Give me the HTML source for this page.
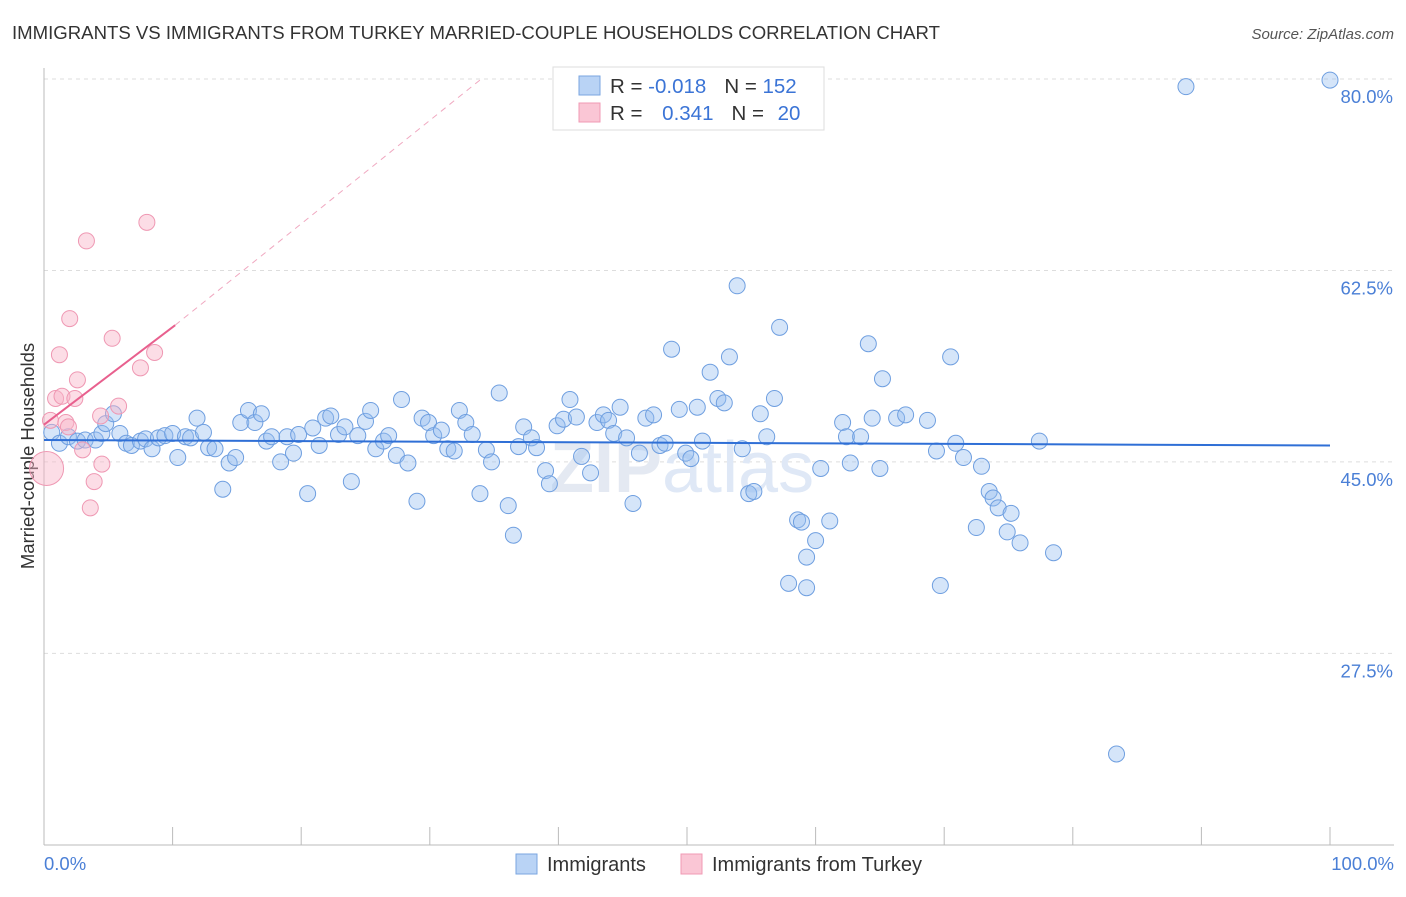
<!DOCTYPE html>
<html><head><meta charset="utf-8"><style>
body{margin:0;background:#fff;font-family:"Liberation Sans",sans-serif}
svg text{font-family:"Liberation Sans",sans-serif}
</style></head><body>
<svg id="chart" width="1406" height="892" viewBox="0 0 1406 892" xmlns="http://www.w3.org/2000/svg">
<text x="12" y="39" font-size="18" fill="#333" textLength="928" lengthAdjust="spacingAndGlyphs">IMMIGRANTS VS IMMIGRANTS FROM TURKEY MARRIED-COUPLE HOUSEHOLDS CORRELATION CHART</text>
<text x="1394" y="39" font-size="15" fill="#555" text-anchor="end" font-style="italic">Source: ZipAtlas.com</text>
<g id="grid"></g>
<text x="550" y="492" font-size="72" fill="#e4e9f2" font-weight="bold">ZIP<tspan font-weight="normal" fill="#dfe8f6">atlas</tspan></text>
<line x1="44" y1="68" x2="44" y2="845" stroke="#bbb"/>
<line x1="44" y1="845" x2="1394" y2="845" stroke="#bbb"/>
<g id="xticks"></g>
<g id="ylabels"></g>
<text x="44" y="870" font-size="18.5" fill="#4a7fd6">0.0%</text>
<text x="1394" y="870" font-size="18.5" fill="#4a7fd6" text-anchor="end">100.0%</text>
<text transform="translate(34,456) rotate(-90)" font-size="18.5" fill="#333" text-anchor="middle">Married-couple Households</text>
<g id="blue"></g>
<g id="pink"></g>
<g id="trends"></g>
<g>
<rect x="553" y="67" width="271" height="63" fill="#fff" stroke="#ddd"/>
<rect x="579" y="76" width="21" height="19" fill="#b9d3f5" stroke="#7aa6e0"/>
<rect x="579" y="103" width="21" height="19" fill="#fac6d5" stroke="#f09ab4"/>
<text x="610" y="93" font-size="20.5" fill="#333">R = <tspan fill="#3b74d6">-0.018</tspan><tspan dx="18">N = </tspan><tspan fill="#3b74d6">152</tspan></text>
<text x="610" y="120" font-size="20.5" fill="#333">R = <tspan fill="#3b74d6" dx="14">0.341</tspan><tspan dx="18">N = </tspan><tspan fill="#3b74d6" dx="8">20</tspan></text>
</g>
<g>
<rect x="516" y="854" width="21" height="20" fill="#b9d3f5" stroke="#7aa6e0"/>
<text x="547" y="871" font-size="20" fill="#333">Immigrants</text>
<rect x="681" y="854" width="21" height="20" fill="#fac6d5" stroke="#f09ab4"/>
<text x="712" y="871" font-size="20" fill="#333">Immigrants from Turkey</text>
</g>
</svg>
<script>
const yTicks=[80,62.5,45,27.5];
const yTickLabels=["80.0%","62.5%","45.0%","27.5%"];
const xTicks=[0,10,20,30,40,50,60,70,80,90,100];
const blueX=[0.6,1.2,1.9,2.6,3.2,4.0,4.5,4.8,5.4,5.9,6.4,6.8,7.5,7.9,8.4,8.9,9.4,10.0,10.4,11.0,11.4,11.9,12.4,12.8,13.3,13.9,14.4,14.9,15.3,15.9,16.4,16.9,17.3,17.7,18.4,18.9,19.4,19.8,20.5,20.9,21.4,21.9,22.3,22.9,23.4,23.9,24.4,25.0,25.4,25.8,26.4,26.8,27.4,27.8,28.3,29.0,29.4,29.9,30.3,30.9,31.4,31.9,32.3,32.8,33.3,33.9,34.4,34.8,35.4,36.1,36.5,36.9,37.3,37.9,38.3,39.0,39.3,39.9,40.4,40.9,41.4,41.8,42.5,43.0,43.5,43.9,44.3,44.8,45.3,45.8,46.3,46.8,47.4,47.9,48.3,48.8,49.4,49.9,50.3,50.8,51.2,51.8,52.4,52.9,53.3,53.9,54.3,54.8,55.2,55.7,56.2,56.8,57.2,58.6,58.9,59.3,60.0,60.4,61.1,57.9,59.3,62.1,62.4,62.7,63.5,64.1,64.4,65.0,65.2,66.3,67.0,68.7,69.4,69.7,70.5,70.9,71.5,72.5,72.9,73.5,73.8,74.2,74.9,75.2,75.9,77.4,78.5,83.4,88.8,100.0];
const blueY=[47.7,46.7,47.3,46.9,47.0,47.0,47.6,48.5,49.4,47.6,46.7,46.5,46.9,47.1,46.2,47.2,47.4,47.6,45.4,47.3,47.2,49.0,47.7,46.3,46.2,42.5,44.9,45.4,48.6,49.7,48.6,49.4,46.9,47.3,45.0,47.3,45.8,47.5,42.1,48.1,46.5,49.0,49.2,47.5,48.2,43.2,47.4,48.7,49.7,46.2,46.9,47.4,45.6,50.7,44.9,41.4,49.0,48.6,47.4,47.9,46.2,46.0,49.7,48.6,47.5,42.1,46.1,45.0,51.3,41.0,38.3,46.4,48.2,47.2,46.3,44.2,43.0,48.3,48.9,50.7,49.1,45.5,44.0,48.6,49.3,48.8,47.6,50.0,47.2,41.2,45.8,49.0,49.3,46.5,46.7,55.3,49.8,45.8,45.3,50.0,46.9,53.2,50.8,50.4,54.6,61.1,46.2,42.1,42.3,49.4,47.3,50.8,57.3,39.7,39.5,36.3,37.8,44.4,39.6,33.9,33.5,48.6,47.3,44.9,47.3,55.8,49.0,44.4,52.6,49.0,49.3,48.8,46.0,33.7,54.6,46.7,45.4,39.0,44.6,42.3,41.7,40.8,38.6,40.3,37.6,46.9,36.7,18.3,79.3,79.9];
const pinkX=[0.5,0.9,1.4,1.7,1.9,2.4,2.6,1.2,2.0,3.3,3.9,3.6,4.5,4.4,5.3,5.8,7.5,8.0,8.6,3.0];
const pinkY=[48.8,50.8,51.0,48.6,48.2,50.8,52.5,54.8,58.1,65.2,43.2,40.8,44.8,49.2,56.3,50.1,53.6,66.9,55.0,46.1];
const bigPinkX=[0.2], bigPinkY=[44.4];
const blueTrend=[[0,47.0],[100,46.5]];
const pinkTrend=[[0,48.4],[10.2,57.5]];
const pinkTrendExt=[[10.2,57.5],[34,80]];
const X=v=>44+v*12.86, Y=v=>79+(80-v)*10.94;
const NS="http://www.w3.org/2000/svg";
function mk(p,tag,at){const e=document.createElementNS(NS,tag);for(const k in at)e.setAttribute(k,at[k]);p.appendChild(e);return e;}
const grid=document.getElementById('grid'),yl=document.getElementById('ylabels');
yTicks.forEach((t,i)=>{const l=mk(grid,'line',{x1:44,x2:1394,y1:Y(t),y2:Y(t),stroke:'#ddd','stroke-dasharray':'4,4'});


const tx=mk(yl,'text',{x:1393,y:Y(t)+24,'font-size':18.5,fill:'#4a7fd6','text-anchor':'end'});tx.textContent=yTickLabels[i];

});
const xt=document.getElementById('xticks');
xTicks.forEach(t=>{const l=mk(xt,'line',{x1:X(t),x2:X(t),y1:827,y2:845,stroke:'#bbb'});

});
const bg=document.getElementById('blue');
blueX.forEach((x,i)=>{const c=mk(bg,'circle',{cx:X(x),cy:Y(blueY[i]),r:8,fill:'rgba(150,190,240,0.4)',stroke:'#6f9fe0','stroke-width':1});

});
const pg=document.getElementById('pink');
pinkX.forEach((x,i)=>{const c=mk(pg,'circle',{cx:X(x),cy:Y(pinkY[i]),r:8,fill:'rgba(248,180,200,0.45)',stroke:'#ef98b3','stroke-width':1});

});
bigPinkX.forEach((x,i)=>{const c=mk(pg,'circle',{cx:X(x),cy:Y(bigPinkY[i]),r:17,fill:'rgba(248,180,200,0.45)',stroke:'#ef98b3','stroke-width':1});

});
const tg=document.getElementById('trends');
let l1=mk(tg,'line',{x1:X(blueTrend[0][0]),y1:Y(blueTrend[0][1]),x2:X(blueTrend[1][0]),y2:Y(blueTrend[1][1]),stroke:'#2f6fd6','stroke-width':2});


let l2=mk(tg,'line',{x1:X(pinkTrend[0][0]),y1:Y(pinkTrend[0][1]),x2:X(pinkTrend[1][0]),y2:Y(pinkTrend[1][1]),stroke:'#e8608e','stroke-width':2});


let l3=mk(tg,'line',{x1:X(pinkTrendExt[0][0]),y1:Y(pinkTrendExt[0][1]),x2:X(pinkTrendExt[1][0]),y2:Y(pinkTrendExt[1][1]),stroke:'#f0a8c0','stroke-width':1,'stroke-dasharray':'6,5'});


</script>
</body></html>
